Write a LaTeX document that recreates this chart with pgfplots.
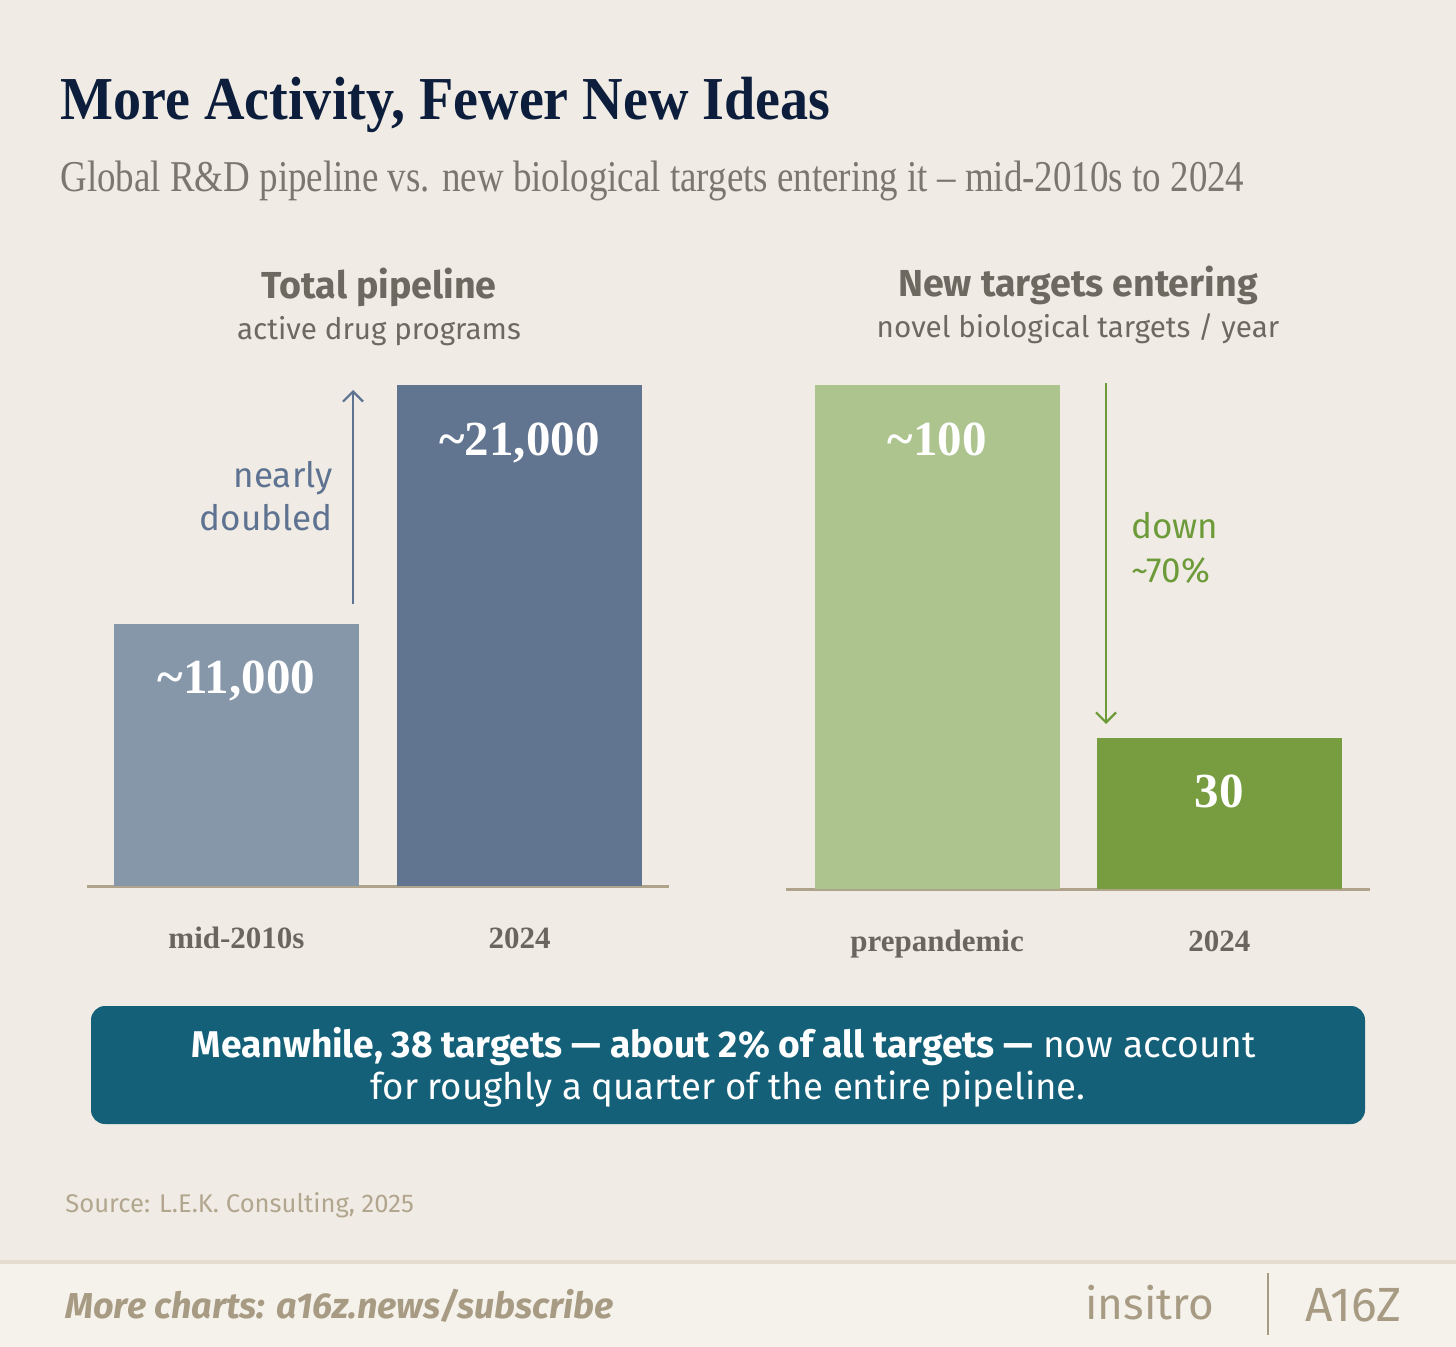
\documentclass[border=0pt]{standalone}
\usepackage{fontspec}
\usepackage{pgfplots}
\pgfplotsset{compat=1.18}
\usetikzlibrary{arrows.meta}
\setmainfont{Liberation Serif}
\newfontfamily\titlefont[FakeStretch=0.92]{Liberation Serif}
\newfontfamily\subfont[FakeStretch=0.84]{Liberation Serif}
\newfontfamily\sansf{Fira Sans}
\definecolor{bg}{HTML}{F0ECE5}
\definecolor{footbg}{HTML}{F5F2EC}
\definecolor{footline}{HTML}{E4DCCD}
\definecolor{titlec}{HTML}{0D1E3D}
\definecolor{subc}{HTML}{7B776F}
\definecolor{panelc}{HTML}{6D6960}
\definecolor{bluelt}{HTML}{8797AA}
\definecolor{bluedk}{HTML}{617490}
\definecolor{greenlt}{HTML}{ADC48F}
\definecolor{greendk}{HTML}{779D40}
\definecolor{axisc}{HTML}{B0A38C}
\definecolor{tickc}{HTML}{6A665E}
\definecolor{annblue}{HTML}{5E7291}
\definecolor{anngreen}{HTML}{6E9B3A}
\definecolor{callc}{HTML}{156079}
\definecolor{srcc}{HTML}{B2A68F}
\definecolor{footc}{HTML}{A89B83}
\begin{document}
\begin{tikzpicture}[x=0.5pt,y=-0.5pt]
\fill[bg] (0,0) rectangle (1456,1347);
\fill[footbg] (0,1262) rectangle (1456,1347);
\draw[footline, line width=2pt] (0,1262)--(1456,1262);
% titles
\node[anchor=base west, inner sep=0, text=titlec, font=\titlefont\bfseries\fontsize{30.5}{35}\selectfont] at (60,120) {More Activity, Fewer New Ideas};
\node[anchor=base west, inner sep=0, text=subc, font=\subfont\fontsize{22}{26}\selectfont] at (60,192) {Global R\&D pipeline vs. new biological targets entering it – mid-2010s to 2024};
% panel titles
\node[anchor=base, inner sep=0, text=panelc, font=\sansf\bfseries\fontsize{18.8}{22}\selectfont] at (379,299) {Total pipeline};
\node[anchor=base, inner sep=0, text=panelc, font=\sansf\fontsize{14.8}{18}\selectfont] at (379,340) {active drug programs};
\node[anchor=base, inner sep=0, text=panelc, font=\sansf\bfseries\fontsize{18.8}{22}\selectfont] at (1078,297) {New targets entering};
\node[anchor=base, inner sep=0, text=panelc, font=\sansf\fontsize{14.8}{18}\selectfont] at (1078,338) {novel biological targets / year};

% left axis
\begin{axis}[
  at={(43.5pt,-443pt)}, anchor=south west,
  scale only axis, width=291pt, height=250.5pt,
  xmin=-0.528, xmax=1.528, ymin=0, ymax=21000,
  axis x line=bottom, hide y axis,
  x axis line style={axisc, line width=1.5pt, -},
  xtick={0,1}, xticklabels={mid-2010s,2024}, major tick length=0pt,
  xticklabel style={anchor=base, yshift=-31pt, text=tickc, font=\bfseries\fontsize{15.5}{18}\selectfont},
  ybar, bar width=0.866, clip=false,
  point meta=explicit symbolic,
  nodes near coords,
  every node near coord/.append style={anchor=base, yshift=-35pt, text=white, font=\bfseries\fontsize{24.5}{28}\selectfont},
]
\addplot[fill=bluelt, draw=none, bar shift=0pt] coordinates {(0,11000) [{\textasciitilde 11,000}]};
\addplot[fill=bluedk, draw=none, bar shift=0pt] coordinates {(1,21000) [{\textasciitilde 21,000}]};
\end{axis}

% right axis
\begin{axis}[
  at={(393pt,-444.5pt)}, anchor=south west,
  scale only axis, width=292pt, height=252pt,
  xmin=-0.535, xmax=1.533, ymin=0, ymax=100,
  axis x line=bottom, hide y axis,
  x axis line style={axisc, line width=1.5pt, -},
  xtick={0,1}, xticklabels={prepandemic,2024}, major tick length=0pt,
  xticklabel style={anchor=base, yshift=-31pt, text=tickc, font=\bfseries\fontsize{15.5}{18}\selectfont},
  ybar, bar width=0.867, clip=false,
  point meta=explicit symbolic,
  nodes near coords,
  every node near coord/.append style={anchor=base, yshift=-35pt, text=white, font=\bfseries\fontsize{24.5}{28}\selectfont},
]
\addplot[fill=greenlt, draw=none, bar shift=0pt] coordinates {(0,100) [{\textasciitilde 100}]};
\addplot[fill=greendk, draw=none, bar shift=0pt] coordinates {(1,30) [{30}]};
\end{axis}

% annotations
\draw[annblue, line width=1.1pt, -{Straight Barb[length=5pt,width=10pt]}] (353,604) -- (353,390);
\node[anchor=base east, inner sep=0, text=annblue, font=\sansf\fontsize{17.5}{21}\selectfont] at (333,488) {nearly};
\node[anchor=base east, inner sep=0, text=annblue, font=\sansf\fontsize{17.5}{21}\selectfont] at (333,531) {doubled};
\draw[anngreen, line width=1.1pt, -{Straight Barb[length=5pt,width=10pt]}] (1106,383) -- (1106,724);
\node[anchor=base west, inner sep=0, text=anngreen, font=\sansf\fontsize{17.5}{21}\selectfont] at (1131,539) {down};
\node[anchor=base west, inner sep=0, text=anngreen, font=\sansf\fontsize{17.5}{21}\selectfont] at (1131,582) {\textasciitilde 70\%};

% callout
\fill[callc, rounded corners=7pt] (91,1006) rectangle (1365,1124);
\node[anchor=base, inner sep=0, text=white, font=\sansf\fontsize{18.6}{22}\selectfont] at (724,1057) {\textbf{Meanwhile, 38 targets — about 2\% of all targets —} now account};
\node[anchor=base, inner sep=0, text=white, font=\sansf\fontsize{18.3}{22}\selectfont] at (728,1099) {for roughly a quarter of the entire pipeline.};

% source & footer
\node[anchor=base west, inner sep=0, text=srcc, font=\sansf\fontsize{12.8}{15}\selectfont] at (65,1212) {Source: L.E.K. Consulting, 2025};
\node[anchor=base west, inner sep=0, text=footc, font=\sansf\bfseries\itshape\fontsize{18}{21}\selectfont] at (65,1318) {More charts: a16z.news/subscribe};
\node[anchor=base west, inner sep=0, text=footc, font=\sansf\fontsize{22}{26}\selectfont] at (1085,1319) {insitro};
\draw[footc, line width=1pt] (1268,1273) -- (1268,1335);
\node[anchor=base west, inner sep=0, text=footc, font=\sansf\fontsize{24}{28}\selectfont] at (1305,1321) {A16Z};
\pgfresetboundingbox
\path[use as bounding box] (0,0) rectangle (1456,1347);
\end{tikzpicture}
\end{document}
